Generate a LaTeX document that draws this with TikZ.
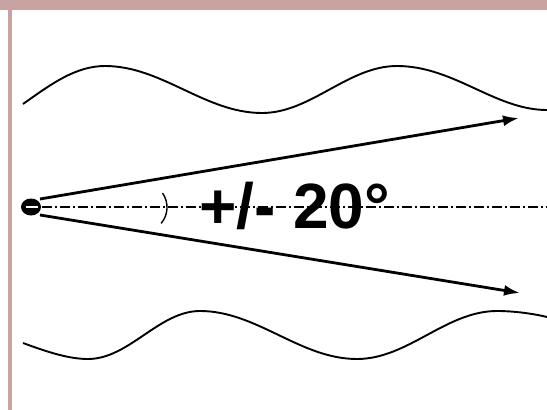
\documentclass[tikz,border=0pt]{standalone}
\usepackage{fontspec}
\setmainfont{Liberation Sans}
\usetikzlibrary{arrows.meta}
\definecolor{frame}{HTML}{C9A2A2}
\tikzset{
  wave/.style={line width=1.9pt, black, line join=round},
  ray/.style={line width=2.8pt, black, -{Latex[length=16pt,width=11pt]}},
  axisline/.style={line width=1.5pt, black, dash pattern=on 10pt off 3pt on 2pt off 3pt},
  anglearc/.style={line width=1.4pt, black},
  lbl/.style={inner sep=0pt, font=\bfseries\fontsize{64}{64}\selectfont}
}
\begin{document}
\begin{tikzpicture}[x=1pt,y=-1pt]
\useasboundingbox (0,0) rectangle (547,410);
\fill[white] (0,0) rectangle (547,410);
% frame
\fill[frame] (0,0) rectangle (547,9.8);
\fill[frame] (7.7,0) rectangle (11.5,410);
% coordinates
\coordinate (src) at (31,207);
\coordinate (srcU) at (40,199);
\coordinate (srcD) at (40,215);
\coordinate (tipU) at (519,118);
\coordinate (tipD) at (520,293);
\coordinate (axisS) at (42,207);
\coordinate (axisE) at (547,207);
% waves
\draw[wave] (23,104) .. controls (50,85) and (75,66) .. (105,66)
  .. controls (162,66) and (205,113) .. (262,113)
  .. controls (311,113) and (348,66) .. (397,66)
  .. controls (454,66) and (495,110) .. (547,110);
\draw[wave] (23,343) .. controls (50,353) and (70,359) .. (88,359)
  .. controls (129,359) and (159,311) .. (200,311)
  .. controls (257,311) and (300,359) .. (357,359)
  .. controls (408,359) and (446,311) .. (497,311)
  .. controls (515,311) and (535,314) .. (547,317);
% axis
\draw[axisline] (axisS) -- (axisE);
% source
\fill[black] (src) ellipse [x radius=10, y radius=8.5];
\draw[white, line width=2.5pt] (26,207) -- (38,207);
% rays
\draw[ray] (srcU) -- (tipU);
\draw[ray] (srcD) -- (tipD);
% angle arc
\draw[anglearc] (162.5,193) arc[start angle=-35, end angle=40, radius=25];
% label
\node[lbl, anchor=base west] (lab) at (199,228) {+/- 20°};
\end{tikzpicture}
\end{document}
